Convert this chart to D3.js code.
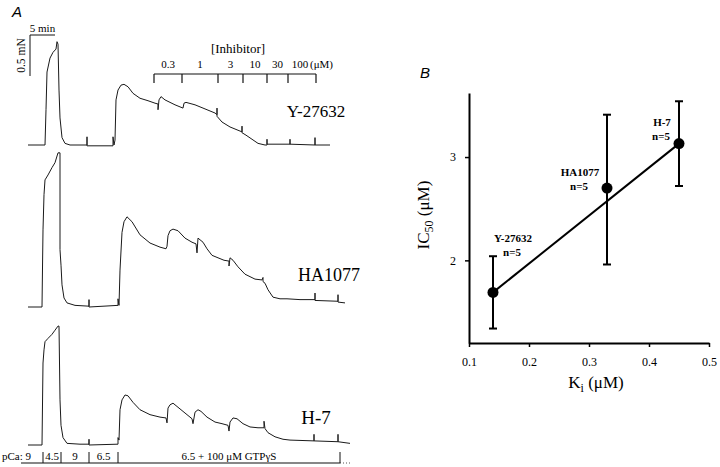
<!DOCTYPE html>
<html><head><meta charset="utf-8">
<script src="https://cdnjs.cloudflare.com/ajax/libs/d3/7.8.5/d3.min.js"></script>
<style>body{margin:0;background:#fff}svg{display:block}</style></head>
<body><svg id="c" width="720" height="467"></svg>
<script>
// ---------- Panel A data: time (min), force (mN above baseline) ----------
const traceY27632 = [[0,0],[3.4,0],[3.6,0.43],[3.8,0.89],[4.4,1.06],[5.0,1.13],[5.6,1.17],[5.8,1.26],[6.0,1.23],[6.2,0.67],[6.4,0.33],[6.8,0.09],[7.4,0.02],[8.4,0],[11.8,0],[11.8,0.1],[11.8,-0.01],[17.0,-0.01],[17.0,0.1],[17.2,0.0],[17.4,0.06],[17.6,0.55],[18.0,0.67],[18.6,0.73],[19.2,0.74],[20.0,0.71],[21.0,0.63],[22.4,0.57],[24.0,0.54],[25.4,0.51],[26.0,0.5],[26.0,0.43],[26.2,0.55],[26.6,0.59],[27.4,0.55],[29.4,0.49],[31.0,0.45],[31.2,0.51],[31.6,0.52],[33.4,0.49],[35.4,0.44],[37.4,0.39],[37.8,0.37],[37.8,0.45],[37.8,0.35],[38.8,0.28],[40.4,0.22],[42.0,0.18],[42.8,0.16],[42.8,0.23],[42.8,0.15],[43.6,0.12],[44.8,0.07],[46.0,0.02],[47.4,0],[47.8,0],[47.8,0.07],[47.8,0.01],[52.4,0.01],[52.4,0.07],[52.4,0.01],[57.4,0],[57.4,0.09],[57.4,0],[60.4,0]];
const traceHA1077 = [[0,0],[2.8,0],[3.0,0.94],[3.2,1.37],[3.4,1.55],[4.0,1.61],[4.8,1.7],[5.4,1.76],[6.0,1.88],[6.4,1.88],[6.4,0.7],[6.6,0.51],[6.8,0.27],[7.2,0.11],[7.8,0.05],[9.4,0.02],[12.2,0.01],[12.2,0.09],[12.2,0],[18.0,0.02],[18.0,0.1],[18.2,0.02],[18.4,0.45],[18.8,0.91],[19.2,1.04],[19.8,1.1],[20.8,1.04],[22.4,0.88],[24.4,0.78],[26.4,0.73],[27.6,0.71],[27.8,0.74],[28.0,0.87],[28.4,0.93],[29.0,0.95],[30.0,0.93],[31.4,0.84],[32.8,0.79],[33.6,0.77],[33.8,0.66],[34.0,0.84],[34.4,0.82],[35.0,0.79],[35.8,0.71],[36.8,0.63],[38.0,0.6],[39.2,0.57],[40.2,0.56],[40.2,0.5],[40.4,0.6],[41.0,0.57],[42.0,0.49],[43.4,0.4],[45.4,0.34],[46.8,0.33],[47.0,0.36],[47.0,0.31],[47.4,0.29],[48.0,0.21],[49.0,0.12],[50.4,0.1],[51.8,0.1],[54.4,0.09],[57.4,0.09],[57.4,0.17],[57.4,0.08],[62.0,0.07],[62.0,0.15],[62.0,0.06],[63.4,0.05]];
const traceH7 = [[0,0],[2.8,0],[3.0,1.0],[3.2,1.16],[3.4,1.26],[4.0,1.3],[4.8,1.35],[5.4,1.4],[6.0,1.45],[6.2,1.45],[6.4,0.55],[6.6,0.24],[7.0,0.09],[7.8,0.02],[10.4,0.01],[12.2,0.01],[12.2,0.07],[12.2,0],[18.0,0.01],[18.0,0.09],[18.2,0.06],[18.4,0.43],[18.8,0.55],[19.4,0.61],[20.0,0.6],[21.0,0.52],[22.4,0.43],[24.4,0.37],[26.4,0.34],[27.6,0.33],[27.8,0.27],[28.0,0.45],[28.4,0.49],[29.0,0.51],[30.0,0.46],[31.4,0.39],[32.8,0.32],[33.0,0.26],[33.4,0.4],[34.0,0.43],[34.6,0.41],[35.8,0.34],[37.4,0.28],[38.8,0.26],[40.0,0.24],[40.2,0.17],[40.4,0.28],[41.0,0.33],[41.8,0.32],[43.0,0.26],[44.4,0.22],[46.0,0.21],[47.2,0.21],[47.2,0.29],[47.4,0.2],[48.0,0.15],[49.4,0.1],[51.0,0.07],[52.4,0.06],[57.2,0.05],[57.2,0.13],[57.2,0.05],[62.0,0.04],[62.0,0.13],[62.0,0.04],[64.4,0.02]];
const traceNames = ["Y-27632","HA1077","H-7"];
const inhibitorTimes = [25.2,30.8,38.0,43.0,47.8,52.0,57.6];
const inhibitorLabels = ["0.3","1","3","10","30","100"];
const inhibitorUnit = "(μM)";
const pcaTimes = [-1.2,3.0,6.6,12.2,18.0,62.4];
const pcaLabels = ["pCa: 9","4.5","9","6.5","6.5 + 100 μM GTPγS"];
const scaleBarMin = 5, scaleBarMN = 0.5;

// ---------- Panel B data ----------
const drugs = ["Y-27632","HA1077","H-7"];
const kiValues = [0.14,0.33,0.45];
const ic50Values = [1.69,2.70,3.13];
const ic50Low = [1.34,1.96,2.72];
const ic50High = [2.04,3.41,3.54];
const nLabels = ["n=5","n=5","n=5"];
const fitKi = [0.14,0.45];
const fitIC50 = [1.69,3.13];
const xTicks = [0.1,0.2,0.3,0.4,0.5];
const yTicks = [2,3];

const svg = d3.select("#c");
const serif = "'Liberation Serif','Times New Roman',serif";
const sans = "'Liberation Sans',Arial,sans-serif";

// ================= Panel A =================
const xT = d3.scaleLinear().domain([0,65]).range([28,353]);
const pxPerMN = 82;
const bases = [145,307,445];
const traces = [traceY27632, traceHA1077, traceH7];
const labelPos = [[316,117],[329,281],[316,424]];
const labelSize = [17,18,19];

traces.forEach((tr,i)=>{
  const yS = d3.scaleLinear().domain([0,1]).range([bases[i], bases[i]-pxPerMN]);
  const line = d3.line().x(d=>xT(d[0])).y(d=>yS(d[1]));
  svg.append("path").attr("d", line(tr)).attr("fill","none")
     .attr("stroke","#1a1a1a").attr("stroke-width",1).attr("stroke-linejoin","round");
  svg.append("text").attr("x",labelPos[i][0]).attr("y",labelPos[i][1])
     .attr("text-anchor","middle").attr("font-family",serif).attr("font-size",labelSize[i])
     .text(traceNames[i]);
});

svg.append("text").attr("x",12).attr("y",17).attr("font-family",sans)
   .attr("font-style","italic").attr("font-size",15).text("A");

// scale bars
const sbY = d3.scaleLinear().domain([0,1]).range([0,pxPerMN]);
const sbx0 = xT(0.4), sbTop = 35;
svg.append("path").attr("d",`M${xT(0.4+scaleBarMin)},${sbTop}H${sbx0}V${sbTop+sbY(scaleBarMN)}`)
   .attr("fill","none").attr("stroke","#111").attr("stroke-width",1);
svg.append("text").attr("x",(sbx0+xT(0.4+scaleBarMin))/2).attr("y",32).attr("text-anchor","middle")
   .attr("font-family",serif).attr("font-size",11).text(scaleBarMin+" min");
svg.append("text").attr("transform",`translate(25,${sbTop+sbY(scaleBarMN)/2}) rotate(-90)`)
   .attr("text-anchor","middle").attr("font-family",serif).attr("font-size",11.5).text(scaleBarMN+" mN");

// inhibitor bracket
const ibY = 74;
svg.append("line").attr("x1",xT(inhibitorTimes[0])).attr("x2",xT(inhibitorTimes[inhibitorTimes.length-1]))
   .attr("y1",ibY).attr("y2",ibY).attr("stroke","#111").attr("stroke-width",1.2);
svg.selectAll(".ibt").data(inhibitorTimes).enter().append("line")
   .attr("x1",d=>xT(d)).attr("x2",d=>xT(d)).attr("y1",ibY).attr("y2",ibY+9)
   .attr("stroke","#111").attr("stroke-width",1.2);
inhibitorLabels.forEach((lab,i)=>{
  const mx = (xT(inhibitorTimes[i])+xT(inhibitorTimes[i+1]))/2;
  svg.append("text").attr("x", i===inhibitorLabels.length-1 ? mx-2 : mx).attr("y",68)
     .attr("text-anchor","middle").attr("font-family",serif).attr("font-size",11).text(lab);
  if(i===inhibitorLabels.length-1){
    svg.append("text").attr("x",mx+8).attr("y",68).attr("font-family",serif).attr("font-size",11).text(inhibitorUnit);
  }
});
svg.append("text").attr("x",238).attr("y",53).attr("text-anchor","middle")
   .attr("font-family",serif).attr("font-size",13).text("[Inhibitor]");

// pCa bar
const pY = 463;
svg.append("line").attr("x1",21).attr("x2",xT(pcaTimes[pcaTimes.length-1])).attr("y1",pY).attr("y2",pY)
   .attr("stroke","#111").attr("stroke-width",1.2);
svg.append("line").attr("x1",xT(pcaTimes[pcaTimes.length-1])).attr("x2",352).attr("y1",pY).attr("y2",pY)
   .attr("stroke","#555").attr("stroke-width",1).attr("stroke-dasharray","1,2");
svg.selectAll(".pt").data(pcaTimes.slice(1)).enter().append("line")
   .attr("x1",d=>xT(d)).attr("x2",d=>xT(d)).attr("y1",452).attr("y2",pY)
   .attr("stroke","#111").attr("stroke-width",1);
pcaLabels.forEach((lab,i)=>{
  if(i===0){
    svg.append("text").attr("x",2).attr("y",460).attr("font-family",serif).attr("font-size",11).text(lab);
  } else {
    const mx = (xT(pcaTimes[i])+xT(pcaTimes[i+1]))/2;
    svg.append("text").attr("x",mx).attr("y",460).attr("text-anchor","middle")
       .attr("font-family",serif).attr("font-size",11).text(lab);
  }
});

// ================= Panel B =================
const xB = d3.scaleLinear().domain([0.1,0.5]).range([469,709]);
const yB = d3.scaleLinear().domain([1.2,3.62]).range([343,93]);

svg.append("text").attr("x",420).attr("y",78).attr("font-family",sans)
   .attr("font-style","italic").attr("font-size",15).text("B");

const gx = svg.append("g").attr("transform","translate(0,343)")
  .call(d3.axisBottom(xB).tickValues(xTicks).tickFormat(d3.format(".1f")).tickSize(4).tickSizeOuter(0));
const gy = svg.append("g").attr("transform","translate(469,0)")
  .call(d3.axisLeft(yB).tickValues(yTicks).tickFormat(d3.format("d")).tickSize(4).tickSizeOuter(0));
[gx,gy].forEach(g=>{
  g.select(".domain").attr("stroke","#000").attr("stroke-width",2);
  g.selectAll(".tick line").attr("stroke","#000").attr("stroke-width",1.5);
  g.selectAll("text").attr("font-family",serif).attr("font-size",12).attr("fill","#000");
});
gx.selectAll("text").attr("dy","1.3em");
gy.selectAll("text").attr("dx","-0.5em");

// axis titles
const xt = svg.append("text").attr("x",596).attr("y",388).attr("text-anchor","middle")
  .attr("font-family",serif).attr("font-size",17);
xt.append("tspan").text("K");
xt.append("tspan").attr("font-size",12).attr("dy",4).text("i");
xt.append("tspan").attr("dy",-4).text(" (μM)");

const yt = svg.append("text").attr("transform","translate(429,215) rotate(-90)").attr("text-anchor","middle")
  .attr("font-family",serif).attr("font-size",17);
yt.append("tspan").text("IC");
yt.append("tspan").attr("font-size",12).attr("dy",4).text("50");
yt.append("tspan").attr("dy",-4).text(" (μM)");

// fit line
svg.append("path").attr("d", d3.line().x(d=>xB(d[0])).y(d=>yB(d[1]))(fitKi.map((k,i)=>[k,fitIC50[i]])))
   .attr("stroke","#000").attr("stroke-width",2).attr("fill","none");

// error bars & points
drugs.forEach((dname,i)=>{
  const x = xB(kiValues[i]);
  svg.append("line").attr("x1",x).attr("x2",x).attr("y1",yB(ic50Low[i])).attr("y2",yB(ic50High[i]))
     .attr("stroke","#000").attr("stroke-width",2);
  [ic50Low[i],ic50High[i]].forEach(v=>{
    svg.append("line").attr("x1",x-4).attr("x2",x+4).attr("y1",yB(v)).attr("y2",yB(v))
       .attr("stroke","#000").attr("stroke-width",2);
  });
  svg.append("circle").attr("cx",x).attr("cy",yB(ic50Values[i])).attr("r",5.5).attr("fill","#000");
});

// point labels
const lblOff = [[20,-50],[-27,-12],[-17,-18]];
drugs.forEach((dname,i)=>{
  const x = xB(kiValues[i])+lblOff[i][0], y = yB(ic50Values[i])+lblOff[i][1];
  svg.append("text").attr("x",x).attr("y",y).attr("text-anchor","middle")
     .attr("font-family",serif).attr("font-size",11).attr("font-weight","bold").text(dname);
  svg.append("text").attr("x",x-1).attr("y",y+14).attr("text-anchor","middle")
     .attr("font-family",serif).attr("font-size",11).attr("font-weight","bold").text(nLabels[i]);
});
</script></body></html>
